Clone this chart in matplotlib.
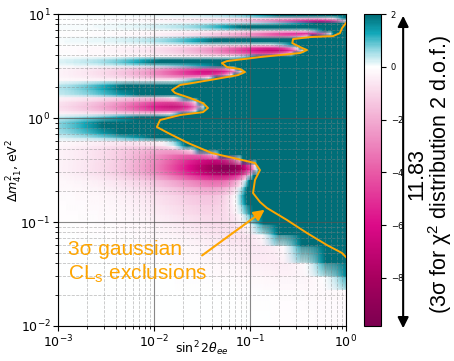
import numpy as np
import matplotlib
matplotlib.use("Agg")
import matplotlib.pyplot as plt
from matplotlib.colors import LinearSegmentedColormap, Normalize

# ---------------------------
# Data
# ---------------------------

# rows of the scan (Delta m^2_41 in eV^2), where the delta chi^2 profile is described by
# s_edge: sin^2 2theta where the map reaches +2 (dark teal)
# chi_min: deepest delta chi^2 in that row (0 = no pink, only rising)
dm2_rows = [10.0, 9.57, 9.05, 8.56, 8.1, 7.67, 7.25, 6.86, 6.42, 6.08,
            5.75, 5.38, 5.03, 4.71, 4.41, 4.13, 3.86, 3.61, 3.38, 3.16,
            2.96, 2.77, 2.59, 2.42, 2.27, 2.07, 1.86, 1.66, 1.56, 1.42,
            1.27, 1.16, 1.09, 1.02, 0.91, 0.80, 0.70, 0.64, 0.59, 0.53,
            0.49, 0.44, 0.395, 0.35, 0.315, 0.28, 0.25, 0.215, 0.18, 0.145,
            0.117, 0.094, 0.075, 0.058, 0.040, 0.0295, 0.022, 0.014, 0.01]
s_edge = [0.25, 0.2, 1.0, 1.1, 0.5, 0.08, 0.09, 0.6, 0.75, 0.45,
          0.045, 0.04, 0.3, 0.34, 0.38, 0.3, 0.12, 0.012, 0.01, 0.05,
          0.075, 0.088, 0.07, 0.045, 0.03, 0.005, 0.0045, 0.007, 0.022, 0.03,
          0.035, 0.03, 0.02, 0.007, 0.003, 0.003, 0.0045, 0.01, 0.02, 0.022,
          0.03, 0.05, 0.085, 0.12, 0.125, 0.11, 0.1, 0.095, 0.09, 0.095,
          0.11, 0.14, 0.2, 0.35, 0.62, 1.1, 3.0, 5.0, 5.0]
chi_min = [0, 0, -1, -6, 0, 0, 0, -0.5, -6, -3,
           0, 0, -0.3, -5, -7, -4, -0.3, 0, 0, 0,
           -4, -6.5, -5, -2, -0.3, 0, 0, 0, -1, -4,
           -7, -4, -1, 0, 0, 0, 0, 0, -0.5, -1,
           -2, -3.5, -6, -9, -9.5, -7, -4, -2.5, -1.5, -1.2,
           -1, -0.8, -0.7, -0.6, -0.5, -0.3, -0.15, -0.1, -0.1]

# 3 sigma gaussian CLs exclusion contour
cont_s = [1.0, 0.91, 0.866, 0.733, 0.422, 0.281, 0.276, 0.332, 0.393, 0.332,
          0.127, 0.0575, 0.051, 0.0575, 0.0787, 0.0887, 0.075, 0.0383, 0.0187, 0.0154,
          0.0166, 0.0237, 0.0324, 0.0365, 0.0324, 0.0187, 0.01155, 0.0107, 0.014, 0.0226,
          0.0402, 0.0826, 0.1127, 0.121, 0.127, 0.1127, 0.1075, 0.127, 0.150, 0.243,
          0.393, 0.634, 0.908, 1.0]
cont_dm2 = [8.2, 7.33, 6.56, 6.14, 6.01, 5.75, 5.26, 4.82, 4.51, 4.22,
            3.86, 3.53, 3.38, 3.09, 2.96, 2.77, 2.59, 2.32, 2.08, 1.86,
            1.74, 1.56, 1.39, 1.25, 1.14, 1.07, 0.957, 0.82, 0.718, 0.575,
            0.46, 0.395, 0.369, 0.338, 0.316, 0.2535, 0.19, 0.156, 0.1365, 0.1045,
            0.0783, 0.060, 0.0504, 0.046]

chi_range = 11.83
vmax = 2.0
vmin = vmax - chi_range


def row_profile(s, se, dmin):
    """delta chi^2 along sin^2 2theta for one dm2 row."""
    if dmin == 0:
        return 2.0 * s / se
    u = np.sqrt(-dmin) + np.sqrt(2.0 - dmin)
    c = (u / se) ** 2
    b = np.sqrt(-dmin * c)
    return c * s ** 2 - 2 * b * s


s_grid = np.logspace(-3, 0, 400)
Z = np.array([row_profile(s_grid, se, d) for se, d in zip(s_edge, chi_min)])
Z = np.clip(Z, vmin, vmax)

cmap = LinearSegmentedColormap.from_list("tealpink", [
    (0.0, "#7c0050"),
    ((-8 - vmin) / chi_range, "#a8005f"),
    ((-6 - vmin) / chi_range, "#dc0a88"),
    ((-4 - vmin) / chi_range, "#e85aa6"),
    ((-2 - vmin) / chi_range, "#f2acd2"),
    ((0 - vmin) / chi_range, "#ffffff"),
    ((0.6 - vmin) / chi_range, "#9edce6"),
    ((1.3 - vmin) / chi_range, "#12a7b8"),
    (1.0, "#006e78"),
])

fig = plt.figure(figsize=(4.54, 3.61), dpi=100)
ax = fig.add_axes([0.128, 0.097, 0.634, 0.864])
cax = fig.add_axes([0.802, 0.097, 0.037, 0.864])

mesh = ax.pcolormesh(s_grid, dm2_rows, Z, cmap=cmap, norm=Normalize(vmin, vmax),
                     shading="gouraud", rasterized=True)
ax.set_xscale("log")
ax.set_yscale("log")
ax.set_xlim(1e-3, 1)
ax.set_ylim(1e-2, 10)

ax.grid(which="major", color="#555555", linestyle="-", linewidth=0.8, alpha=0.7)
ax.grid(which="minor", color="#888888", linestyle="--", linewidth=0.6, alpha=0.5)

ax.plot(cont_s, cont_dm2, color="orange", linewidth=1.4)

ax.set_xlabel(r"$\sin^2 2\theta_{ee}$", fontsize=9)
ax.set_ylabel(r"$\Delta m^2_{41}$, eV$^2$", fontsize=9)
ax.xaxis.set_label_coords(0.5, -0.042)
ax.yaxis.set_label_coords(-0.115, 0.5)
ax.tick_params(labelsize=9, pad=2)

ax.text(0.00127, 0.041, "3σ gaussian\nCL$_\\mathregular{s}$ exclusions", color="orange",
        fontsize=15, family="Liberation Sans", ha="left", va="center")
ax.annotate("", xy=(0.15, 0.136), xytext=(0.030, 0.046),
            arrowprops=dict(arrowstyle="-|>", color="orange", lw=1.5, mutation_scale=16))

cb = fig.colorbar(mesh, cax=cax, ticks=[2, 0, -2, -4, -6, -8])
cb.ax.tick_params(labelsize=6)

fig.add_artist(matplotlib.patches.FancyArrowPatch(
    (0.888, 0.083), (0.888, 0.964), transform=fig.transFigure,
    arrowstyle="<|-|>", color="black", lw=1.5, mutation_scale=16))
fig.text(430 / 454, 0.518, "11.83\n(3σ for χ$^\\mathregular{2}$ distribution 2 d.o.f.)",
         rotation=90, ha="center", va="center", multialignment="center",
         linespacing=0.95, fontsize=15.5, family="Liberation Sans")

fig.savefig("out.png", dpi=100)
